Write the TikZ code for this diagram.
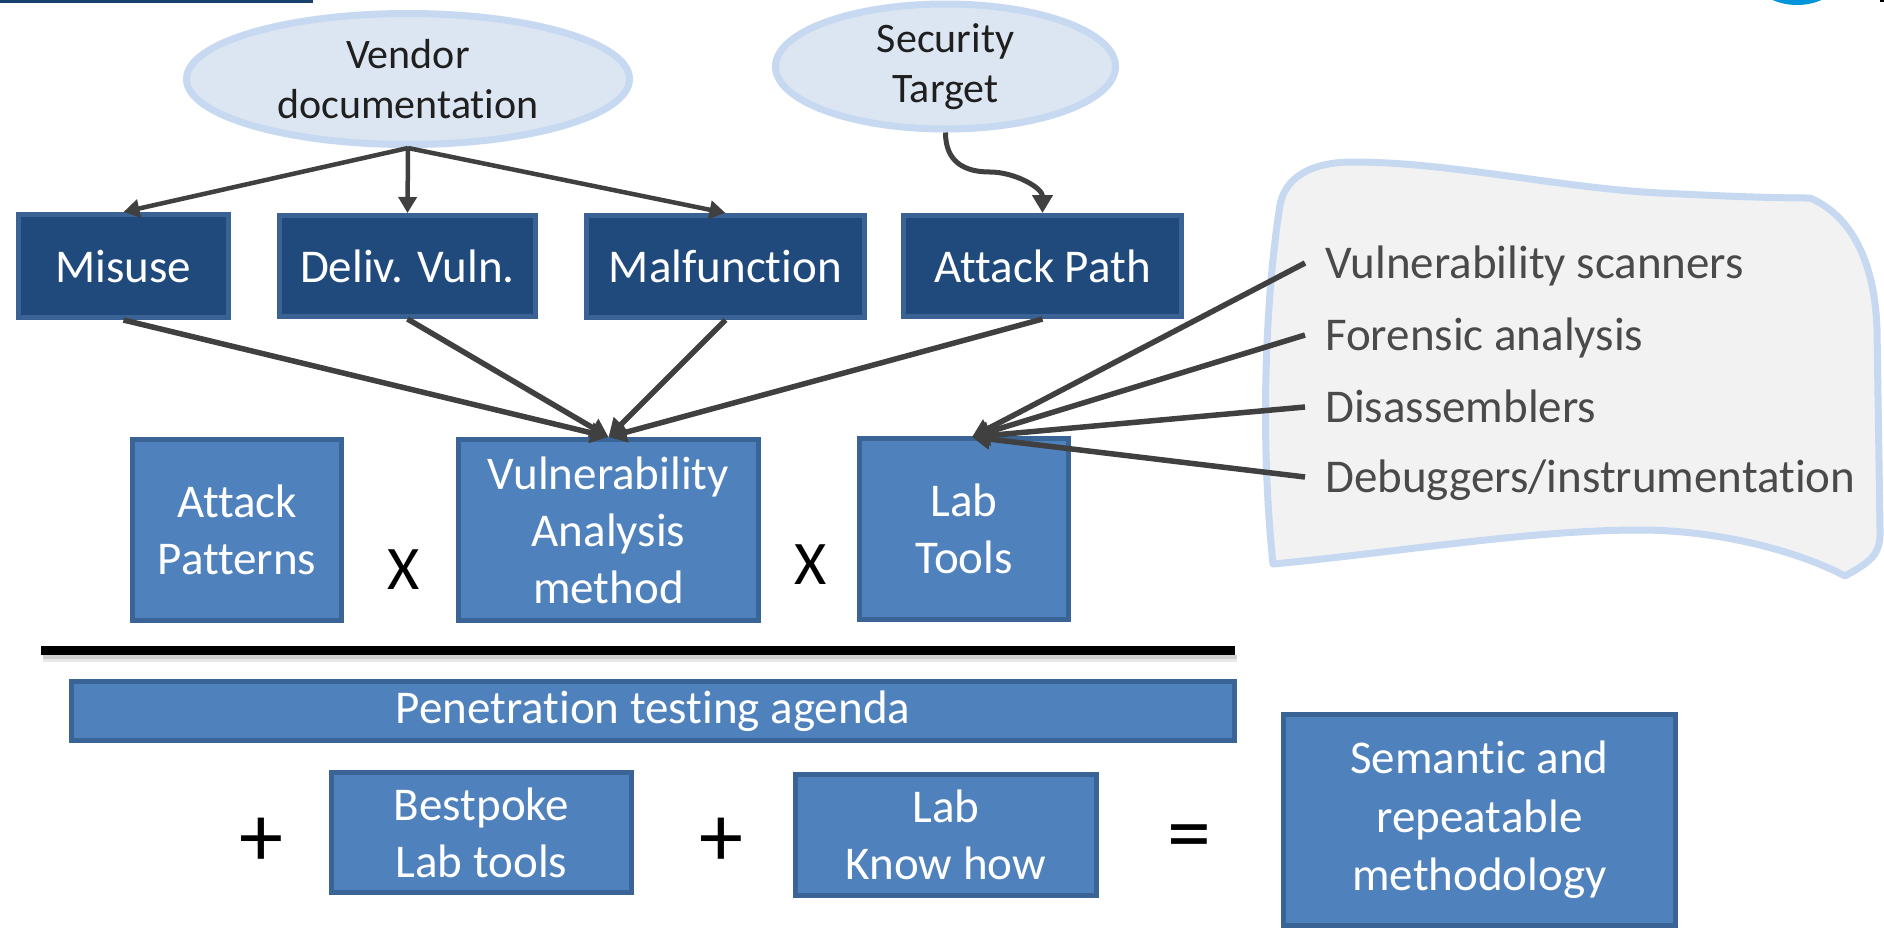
\documentclass[tikz,border=0pt]{standalone}
\usepackage{fontspec}
\setmainfont{Carlito}[Ligatures={NoCommon,NoContextual}]
\usetikzlibrary{shapes.geometric,arrows.meta}
\definecolor{darkfill}{HTML}{214A7C}
\definecolor{darkedge}{HTML}{3A6295}
\definecolor{midfill}{HTML}{4F81BD}
\definecolor{midedge}{HTML}{3A6496}
\definecolor{ovalfill}{HTML}{DCE6F2}
\definecolor{ovaledge}{HTML}{C6D9F1}
\definecolor{cloudfill}{HTML}{F2F2F2}
\definecolor{arrowgray}{HTML}{404040}
\definecolor{listgray}{HTML}{4A4A4A}
\definecolor{topnavy}{HTML}{17406D}
\definecolor{logoblue}{HTML}{0095DA}
\begin{document}
\begin{tikzpicture}[x=1pt,y=-1pt,
  every node/.style={inner sep=0pt},
  boxtext/.style={text=white, font=\fontsize{47}{57}\selectfont, align=center},
  darkbox/.style={boxtext, fill=darkfill, draw=darkedge, line width=5pt},
  midbox/.style={boxtext, fill=midfill, draw=midedge, line width=5pt},
  oval/.style={ellipse, fill=ovalfill, draw=ovaledge, line width=7pt,
    text=black!88, font=\fontsize{42}{50}\selectfont, align=center},
  tool/.style={anchor=base west, inner xsep=20pt, text=listgray,
    font=\fontsize{47}{57}\selectfont, text height=36pt, text depth=6pt},
  opsign/.style={text=black},
  link/.style={draw=arrowgray, line width=5.5pt, -{Triangle[length=18pt,width=20pt]}},
  feed/.style={draw=arrowgray, line width=4.5pt, -{Triangle[length=16pt,width=18pt]}},
]
% page
\useasboundingbox (0,0) rectangle (1884,930);
\fill[white] (0,0) rectangle (1884,930);

% slide decorations at the top edge
\fill[topnavy] (0,0) rectangle (313,3);
\fill[logoblue] (1797,-57) circle (62pt);
\fill[black] (1880,0) rectangle (1884,2);

% tool list backdrop
\filldraw[fill=cloudfill, draw=ovaledge, line width=7pt, line join=round]
  (1280,205) .. controls (1285,178) and (1310,162) .. (1353,162)
  .. controls (1450,162) and (1560,188) .. (1660,193)
  .. controls (1720,196) and (1770,198) .. (1810,198)
  .. controls (1850,215) and (1875,260) .. (1877,330)
  -- (1880,530)
  .. controls (1881,555) and (1870,562) .. (1845,576)
  .. controls (1800,552) and (1720,530) .. (1640,530)
  .. controls (1530,530) and (1400,552) .. (1273,564)
  .. controls (1260,440) and (1265,300) .. cycle;

% sources
\node[oval, minimum width=443pt, minimum height=131pt] (vd) at (408,79) {Vendor\\documentation};
\node[oval, minimum width=340pt, minimum height=125pt] (st) at (945.5,66.5) {Security\\Target};

% threat categories
\node[darkbox, minimum width=210pt, minimum height=103pt] (mis) at (123.5,266) {Misuse};
\node[darkbox, minimum width=256pt, minimum height=101pt] (dv) at (407.5,266) {Deliv. Vuln.};
\node[darkbox, minimum width=278pt, minimum height=102pt] (mf) at (725.5,266.5) {Malfunction};
\node[darkbox, minimum width=278pt, minimum height=101pt] (ap) at (1042.5,266) {Attack Path};

% method row
\node[midbox, minimum width=209pt, minimum height=181pt] (atp) at (237,530) {Attack\\Patterns};
\node[midbox, minimum width=300pt, minimum height=181pt] (va) at (608.5,530) {Vulnerability\\Analysis\\method};
\node[midbox, minimum width=209pt, minimum height=181pt] (lt) at (964,529) {Lab\\Tools};
\node[opsign, font=\fontsize{62}{62}\selectfont] (x1) at (404,570) {X};
\node[opsign, font=\fontsize{62}{62}\selectfont] (x2) at (811,565) {X};

% tools
\node[tool] (vs) at (1305,278) {Vulnerability scanners};
\node[tool] (fa) at (1305,350) {Forensic analysis};
\node[tool] (dis) at (1305,422) {Disassemblers};
\node[tool] (dbg) at (1305,492) {Debuggers/instrumentation};
\coordinate (ltin) at (972,437);

% result rule
\fill[black!30, opacity=0.6] (43,655) rectangle (1237,659);
\fill[black!15, opacity=0.6] (43,659) rectangle (1237,662);
\fill[black] (41,646) rectangle (1235,655);

% outcome
\node[midbox, minimum width=1163pt, minimum height=59pt] (pta) at (653,711) {Penetration testing agenda};
\node[midbox, minimum width=300pt, minimum height=120pt] (blt) at (481.5,832.5) {Bestpoke\\Lab tools};
\node[midbox, minimum width=301pt, minimum height=121pt] (lkh) at (946,835) {Lab\\Know how};
\node[midbox, minimum width=392pt, minimum height=211pt, font=\fontsize{47}{58.5}\selectfont] (sem) at (1479.5,820) {Semantic and\\repeatable\\methodology};
\node[opsign, font=\fontsize{88}{88}\selectfont] (p1) at (261,842) {+};
\node[opsign, font=\fontsize{88}{88}\selectfont] (p2) at (721,842) {+};
\node[opsign, font=\fontsize{88}{88}\selectfont] (eq) at (1189,844) {=};

% connectors
\draw[feed] (vd.south) -- (mis.north);
\draw[feed] (vd.south) -- (dv.north);
\draw[feed] (vd.south) -- (mf.north);
\draw[link, line width=5pt] (st.south) .. controls +(0,30) and +(-25,0) .. (990,172)
  .. controls +(25,0) and +(0,-25) .. (ap.north);
\draw[link] (mis.south) -- (va.north);
\draw[link] (dv.south) -- (va.north);
\draw[link] (mf.south) -- (va.north);
\draw[link] (ap.south) -- (va.north);
\draw[link] (vs.west) -- (ltin);
\draw[link] (fa.west) -- (ltin);
\draw[link] (dis.west) -- (ltin);
\draw[link] (dbg.west) -- (ltin);
\end{tikzpicture}
\end{document}
